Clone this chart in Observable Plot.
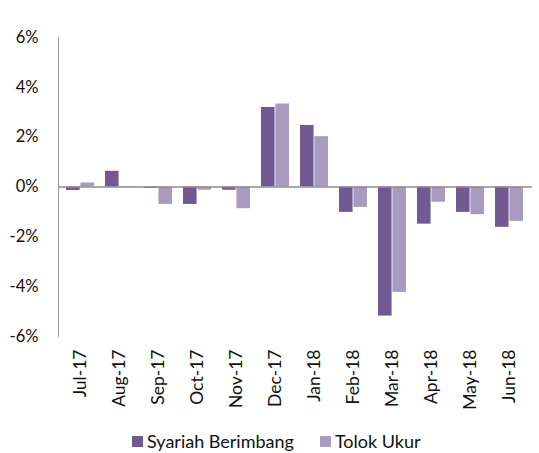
<!DOCTYPE html>
<html><head><meta charset="utf-8">
<script src="https://cdn.jsdelivr.net/npm/d3@7"></script>
<script src="https://cdn.jsdelivr.net/npm/@observablehq/plot@0.6"></script>
<style>
body{margin:0;background:#fff;font-family:Lato,"Open Sans",sans-serif;}
#wrap{position:relative;width:539px;height:453px;}
#legend{position:absolute;left:132px;top:430px;display:flex;align-items:center;font-size:18px;color:#111;}
.sw{display:inline-block;width:11px;height:11px;margin-right:4px;}
.item{display:flex;align-items:center;margin-right:26px;}
#chart svg g[aria-label="x-axis tick label"]{font-size:17.5px;}
</style></head>
<body><div id="wrap"><div id="chart"></div><div id="legend"></div></div>
<script>
const months = ["Jul-17","Aug-17","Sep-17","Oct-17","Nov-17","Dec-17","Jan-18","Feb-18","Mar-18","Apr-18","May-18","Jun-18"];
const syariah = [-0.14,0.63,-0.05,-0.70,-0.13,3.19,2.47,-1.02,-5.18,-1.49,-1.02,-1.62];
const tolok = [0.16,0.02,-0.70,-0.13,-0.87,3.33,2.02,-0.82,-4.23,-0.61,-1.11,-1.38];
const seriesNames = ["Syariah Berimbang","Tolok Ukur"];
const colors = ["#715a93","#a99bc0"];
const yTicks = [-6,-4,-2,0,2,4,6];

const W = 539, ML = 58, MR = 7;
const padIn = 0.27, padOut = 0.135;
const step = (W - ML - MR) / (months.length - padIn + 2*padOut);
const half = step * (1 - padIn) / 2;

const d1 = months.map((m,i)=>({month:m, value:syariah[i]}));
const d2 = months.map((m,i)=>({month:m, value:tolok[i]}));

const chart = Plot.plot({
  width: W, height: 420,
  marginLeft: ML, marginRight: MR, marginTop: 37, marginBottom: 84,
  style: {fontFamily: "Lato, 'Open Sans', sans-serif", fontSize: "16.5px", color: "#111", background: "#fff"},
  x: {domain: months, paddingInner: padIn, paddingOuter: padOut, tickSize: 0, tickPadding: 13, tickRotate: -90, label: null},
  y: {domain: [-6,6], ticks: yTicks, tickFormat: d => d + "%", tickSize: 0, tickPadding: 20, label: null},
  marks: [
    Plot.barY(d1, {x: "month", y: "value", fill: colors[0], insetRight: half}),
    Plot.barY(d2, {x: "month", y: "value", fill: colors[1], insetLeft: half}),
    Plot.ruleY([0], {stroke: "#8c8c8c", strokeWidth: 1.5}),
    Plot.frame({anchor: "left", stroke: "#999"})
  ]
});
document.getElementById("chart").appendChild(chart);

const lg = document.getElementById("legend");
seriesNames.forEach((n,i)=>{
  const it = document.createElement("div"); it.className="item";
  const sw = document.createElement("span"); sw.className="sw"; sw.style.background = colors[i];
  it.appendChild(sw); it.appendChild(document.createTextNode(n)); lg.appendChild(it);
});
</script></body></html>
